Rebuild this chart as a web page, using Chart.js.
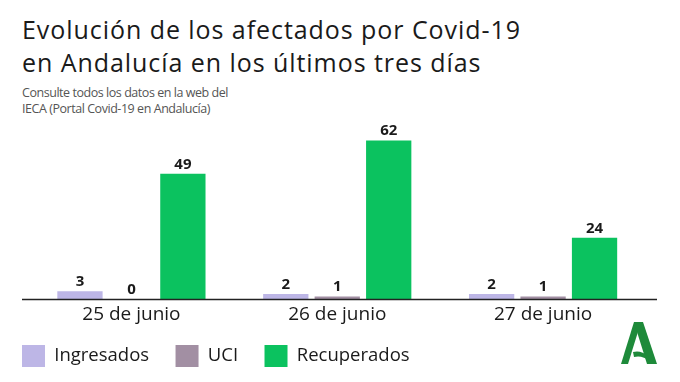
<!DOCTYPE html>
<html><head><meta charset="utf-8">
<script src="https://cdn.jsdelivr.net/npm/chart.js@4/dist/chart.umd.min.js"></script>
<style>
html,body{margin:0;padding:0;background:#fff;}
#wrap{position:relative;width:680px;height:382px;overflow:hidden;}
#title{position:absolute;left:22px;top:13px;font-family:"Open Sans",sans-serif;font-size:25px;line-height:33px;color:#1a1a1a;white-space:nowrap;}
#sub{position:absolute;left:22px;top:85px;font-family:"Open Sans",sans-serif;font-size:12.5px;line-height:16px;color:#555;white-space:nowrap;}
#title span,#sub span{display:inline-block;}
canvas{position:absolute;left:0;top:0;}
#logo{position:absolute;left:0;top:0;}
</style></head>
<body><div id="wrap">
<div id="title"><span id="t1">Evolución de los afectados por Covid-19</span><br><span>en Andalucía en los últimos tres días</span></div>
<div id="sub"><span id="s1">Consulte todos los datos en la web del</span><br><span>IECA (Portal Covid-19 en Andalucía)</span></div>
<canvas id="c" width="680" height="382"></canvas>
<svg id="logo" width="680" height="382">
  <polygon points="621,364 634,322 641,322 628,364" fill="#1e8a3a"/>
  <polygon points="634,322 643,322 657,364 647,364" fill="#1e8a3a"/>
  <path d="M633,352 Q641,350 648,356 L650,361 Q642,355 634,357 Z" fill="#1e8a3a"/>
</svg>
</div>
<script>
const categories = ["25 de junio", "26 de junio", "27 de junio"];
const seriesNames = ["Ingresados", "UCI", "Recuperados"];
const ingresados = [3, 2, 2];
const uci = [0, 1, 1];
const recuperados = [49, 62, 24];
const colors = ["#bdb6e6", "#a28fa3", "#0bc25f"];

// fit title/subtitle widths to the reference via letter-spacing
function fitWidth(id, target, els) {
  const el = document.getElementById(id);
  const w = el.getBoundingClientRect().width;
  const n = el.textContent.length;
  const ls = (target - w) / n;
  document.querySelectorAll(els).forEach(e => e.style.letterSpacing = ls + 'px');
}
fitWidth('t1', 499, '#title span');
fitWidth('s1', 206, '#sub span');

const valueLabels = {
  id: 'valueLabels',
  afterDatasetsDraw(chart) {
    const ctx = chart.ctx;
    ctx.save();
    ctx.font = 'bold 15px "Open Sans", sans-serif';
    ctx.fillStyle = '#1a1a1a';
    ctx.textAlign = 'center';
    ctx.textBaseline = 'alphabetic';
    chart.data.datasets.forEach((ds, i) => {
      chart.getDatasetMeta(i).data.forEach((bar, j) => {
        ctx.fillText(String(ds.data[j]), bar.x, bar.y - 5);
      });
    });
    ctx.restore();
  }
};
const baseLine = {
  id: 'baseLine',
  afterDatasetsDraw(chart) {
    const ctx = chart.ctx, a = chart.chartArea;
    ctx.save();
    ctx.strokeStyle = '#222';
    ctx.lineWidth = 1.5;
    ctx.beginPath();
    ctx.moveTo(22, a.bottom + 0.5);
    ctx.lineTo(657, a.bottom + 0.5);
    ctx.stroke();
    ctx.restore();
  }
};

const seriesData = [ingresados, uci, recuperados];
new Chart(document.getElementById('c'), {
  type: 'bar',
  data: {
    labels: categories,
    datasets: seriesNames.map((n, i) => ({
      label: n,
      data: seriesData[i],
      backgroundColor: colors[i],
      borderWidth: 0,
      barPercentage: 0.88,
      categoryPercentage: 0.75
    }))
  },
  options: {
    responsive: false,
    animation: false,
    layout: { padding: { left: 10, right: 34, top: 120, bottom: 5 } },
    plugins: {
      legend: {
        position: 'bottom',
        align: 'start',
        labels: {
          boxWidth: 23, boxHeight: 22, padding: 12,
          color: '#1a1a1a',
          font: { family: '"Open Sans", sans-serif', size: 18.5 },
          generateLabels(chart) {
            return Chart.defaults.plugins.legend.labels.generateLabels(chart)
              .map(l => Object.assign(l, { text: l.text + '   ' }));
          }
        }
      },
      tooltip: { enabled: false }
    },
    scales: {
      x: {
        grid: { display: false, drawTicks: false },
        border: { display: false },
        ticks: { color: '#1a1a1a', padding: 4, font: { family: '"Open Sans", sans-serif', size: 19 } },
        afterFit(s) { s.height = 34; }
      },
      y: {
        min: 0, max: 70,
        grid: { display: false, drawTicks: false },
        border: { display: false },
        ticks: { display: false },
        afterFit(s) { s.width = 18.5; }
      }
    }
  },
  plugins: [valueLabels, baseLine]
});
</script>
</body></html>
